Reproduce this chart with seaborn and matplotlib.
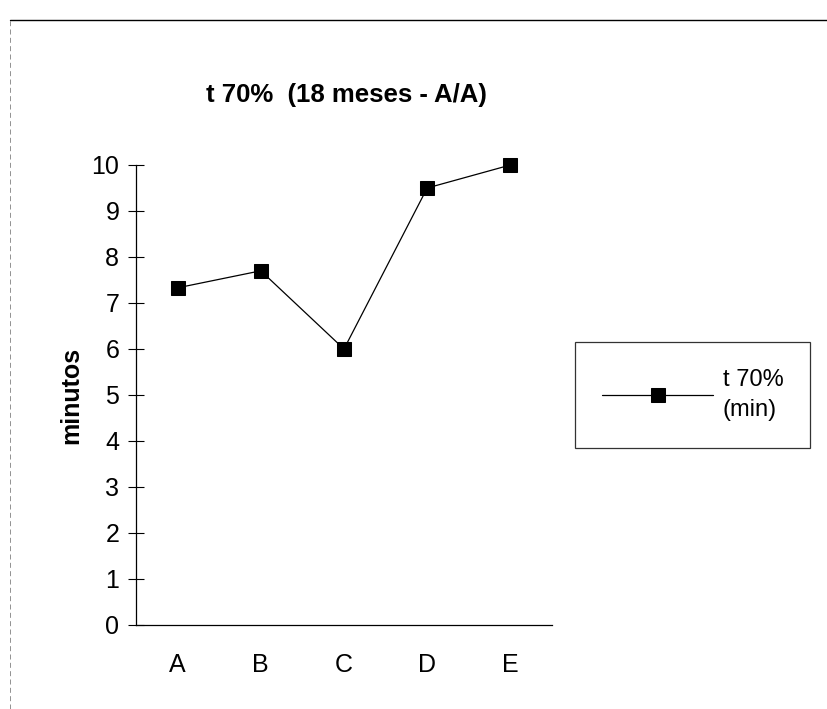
import matplotlib
matplotlib.use("Agg")
import matplotlib.pyplot as plt
from matplotlib.lines import Line2D
import seaborn as sns
import pandas as pd

# values
categories = ["A", "B", "C", "D", "E"]
t70_min = [7.33, 7.7, 6.0, 9.5, 10.0]
y_ticks = list(range(0, 11))

sns.set_style("white")
plt.rcParams["font.family"] = ["Liberation Sans", "DejaVu Sans"]
plt.rcParams["text.color"] = "black"
plt.rcParams["xtick.color"] = "black"
plt.rcParams["ytick.color"] = "black"
plt.rcParams["axes.labelcolor"] = "black"

df = pd.DataFrame({"grupo": categories, "t70": t70_min})

fig = plt.figure(figsize=(8.27, 7.09), dpi=100)
ax = fig.add_axes([136 / 827, 84 / 709, 416 / 827, 460 / 709])

sns.lineplot(data=df, x="grupo", y="t70", ax=ax, color="black", linewidth=0.9,
             marker="s", markersize=10, markeredgecolor="black",
             label="t 70%\n(min)", sort=False)
for ln in ax.lines:
    ln.set_clip_on(False)

ax.set_xlim(-0.5, len(categories) - 0.5)
ax.set_ylim(0, 10)
ax.set_yticks(y_ticks)
ax.set_yticklabels([str(v) for v in y_ticks], fontsize=18)

# category labels in the middle, tick marks between categories
ax.set_xticks(range(len(categories)))
ax.set_xticklabels(categories, fontsize=18)
ax.set_xticks([i - 0.5 for i in range(len(categories) + 1)], minor=True)
ax.tick_params(axis="x", which="major", length=0, pad=20)
ax.tick_params(axis="x", which="minor", length=8, direction="inout", width=0.8)
ax.tick_params(axis="y", length=12, direction="inout", width=0.8, pad=6, left=True)

for s in ["top", "right"]:
    ax.spines[s].set_visible(False)
for s in ["left", "bottom"]:
    ax.spines[s].set_color("black")
    ax.spines[s].set_linewidth(0.9)

ax.set_xlabel("")
ax.set_ylabel("minutos", fontsize=18, fontweight="bold", labelpad=6)
fig.text(346 / 827, 1 - 95 / 709, "t 70%  (18 meses - A/A)", ha="center",
         va="center", fontsize=18.5, fontweight="bold")

leg = ax.legend(loc="center left", bbox_to_anchor=(575 / 827, 1 - 395 / 709),
                bbox_transform=fig.transFigure, fontsize=17, frameon=True,
                fancybox=False, handlelength=4.7, borderpad=1.15,
                handletextpad=0.4, borderaxespad=0)
leg.get_frame().set_edgecolor("black")
leg.get_frame().set_linewidth(0.9)
for t in leg.get_texts():
    t.set_linespacing(1.45)

# outer page frame (top and left edge of the scanned chart area)
fig.add_artist(Line2D([10 / 827, 1], [1 - 20 / 709, 1 - 20 / 709],
                      transform=fig.transFigure, color="black", linewidth=1))
fig.add_artist(Line2D([10 / 827, 10 / 827], [0, 1 - 20 / 709],
                      transform=fig.transFigure, color="gray", linewidth=0.6,
                      linestyle=(0, (6, 4))))

fig.savefig("out.png", dpi=100)
